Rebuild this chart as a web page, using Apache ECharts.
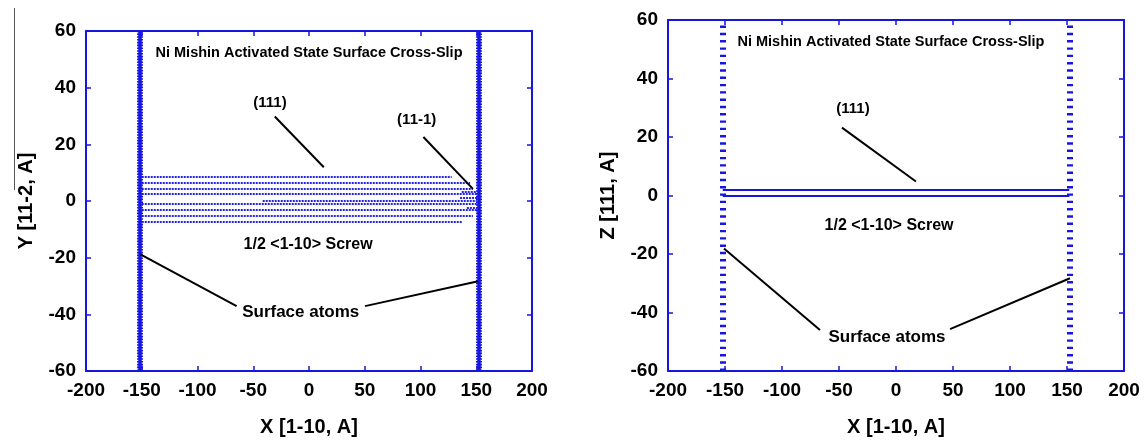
<!DOCTYPE html>
<html><head><meta charset="utf-8">
<script src="https://cdn.jsdelivr.net/npm/echarts@6/dist/echarts.min.js"></script>
<style>html,body{margin:0;padding:0;background:#fff}#c{width:1148px;height:442px}</style>
</head><body><div id="c"></div>
<script>
// ---------- data ----------
const xTickRange = [-200, 200];           // X [1-10, A]
const yTickRange = [-60, 60];             // Y / Z
const xInterval = 50, yInterval = 20;

// surface atom columns (both panels)
const surfaceX = [-152, 152];

// left panel: dislocation rows on (111) (y, xStart, xEnd)
const leftRowY     = [8.7, 6.5, 4.4, 2.4, 0.2, -1.0, -3.2, -5.3, -7.3];
const leftRowStart = [-150, -150, -150, -150, -41.5, -150, -150, -150, -150];
const leftRowEnd   = [128, 144.5, 147, 150.5, 150.5, 150.5, 150.5, 147, 137];
// left panel: cross-slipped part on (11-1)
const crossRowY     = [3.4, 1.1, -2.4];
const crossRowStart = [137, 135.5, 141.6];
const crossRowEnd   = [151, 151, 151];

// right panel: (111) planes
const rightPlaneY     = [1.9, 0.0];
const rightPlaneStart = [-152, -152];
const rightPlaneEnd   = [152, 152];

// annotation texts [text, x, y, fontSize]
const leftTexts = [
  ['Ni Mishin Activated State Surface Cross-Slip', 0, 52.2, 14.5],
  ['(111)', -35, 34.6, 15],
  ['(11-1)', 96.6, 28.7, 15],
  ['1/2 <1-10> Screw', -0.8, -15.3, 16],
  ['Surface atoms', -7.4, -39.2, 17]
];
const rightTexts = [
  ['Ni Mishin Activated State Surface Cross-Slip', -4.4, 52.5, 14.5],
  ['(111)', -37.7, 29.7, 15],
  ['1/2 <1-10> Screw', -6.1, -10.2, 16],
  ['Surface atoms', -7.9, -48.4, 17]
];
// annotation pointer lines [x1,y1,x2,y2]
const leftPointers = [
  [-30.7, 29.8, 13.3, 11.9],
  [102.6, 22.6, 147, 4.3],
  [-151.2, -18.8, -64.9, -37.1],
  [50.2, -37.1, 151.7, -28.3]
];
const rightPointers = [
  [-47.4, 23.2, 17.5, 4.8],
  [-150.9, -18.1, -66.7, -46],
  [47.4, -45.7, 152.6, -28.3]
];

// ---------- chart ----------
const BLUE = '#1616e0';
const FONT = "'Liberation Sans', Arial, sans-serif";
const chart = echarts.init(document.getElementById('c'), null, {renderer: 'canvas'});

function xAxes(gi, title) {
  const common = {gridIndex: gi, type: 'value', min: xTickRange[0], max: xTickRange[1], interval: xInterval,
    splitLine: {show: false},
    axisLine: {onZero: false, lineStyle: {color: BLUE, width: 2}},
    axisTick: {inside: true, length: 5, lineStyle: {color: BLUE, width: 1.5}}};
  return [
    Object.assign({}, common, {position: 'bottom', name: title, nameLocation: 'middle', nameGap: 46,
      nameTextStyle: {color: '#000', fontFamily: FONT, fontWeight: 'bold', fontSize: 20},
      axisLabel: {color: '#000', fontFamily: FONT, fontWeight: 'bold', fontSize: 19, margin: 10}}),
    Object.assign({}, common, {position: 'top', axisLabel: {show: false}})
  ];
}
function yAxes(gi, title) {
  const common = {gridIndex: gi, type: 'value', min: yTickRange[0], max: yTickRange[1], interval: yInterval,
    splitLine: {show: false},
    axisLine: {onZero: false, lineStyle: {color: BLUE, width: 2}},
    axisTick: {inside: true, length: 5, lineStyle: {color: BLUE, width: 1.5}}};
  return [
    Object.assign({}, common, {position: 'left', name: title, nameLocation: 'middle', nameGap: 50,
      nameTextStyle: {color: '#000', fontFamily: FONT, fontWeight: 'bold', fontSize: 20},
      axisLabel: {color: '#000', fontFamily: FONT, fontWeight: 'bold', fontSize: 19, margin: 10}}),
    Object.assign({}, common, {position: 'right', axisLabel: {show: false}})
  ];
}

function segs(ys, xs0, xs1) {
  return ys.map((y, i) => ({coords: [[xs0[i], y], [xs1[i], y]]}));
}
function pointerSegs(p) { return p.map(s => ({coords: [[s[0], s[1]], [s[2], s[3]]]})); }
function vertSegs(xs) { return xs.map(x => ({coords: [[x, yTickRange[0]], [x, yTickRange[1]]]})); }
function textSeries(texts, xi, yi) {
  return {
    type: 'scatter', xAxisIndex: xi, yAxisIndex: yi, symbolSize: 1, silent: true,
    itemStyle: {color: 'rgba(255,255,255,0)', opacity: 1},
    data: texts.map(t => ({value: [t[1], t[2]], name: t[0],
      label: {show: true, position: 'inside', formatter: t[0], color: '#000', fontFamily: FONT,
        fontWeight: 'bold', fontSize: t[3], textBorderWidth: 0, opacity: 1}})),
    z: 10
  };
}

const option = {
  animation: false,
  backgroundColor: '#fff',
  grid: [
    {left: 86, right: 616, top: 31, bottom: 70},
    {left: 668, right: 24, top: 20, bottom: 70}
  ],
  xAxis: [...xAxes(0, 'X [1-10, A]'), ...xAxes(1, 'X [1-10, A]')],
  yAxis: [...yAxes(0, 'Y [11-2, A]'), ...yAxes(1, 'Z [111, A]')],
  series: [
    // left surface atoms
    {type: 'lines', coordinateSystem: 'cartesian2d', xAxisIndex: 0, yAxisIndex: 0,
      data: vertSegs(surfaceX), lineStyle: {color: BLUE, width: 6, type: [1.6, 1.2], opacity: 1}, z: 3},
    {type: 'lines', coordinateSystem: 'cartesian2d', xAxisIndex: 0, yAxisIndex: 0,
      data: vertSegs(surfaceX), lineStyle: {color: BLUE, width: 3.5, opacity: 1}, z: 3},
    // left dislocation rows
    {type: 'lines', coordinateSystem: 'cartesian2d', xAxisIndex: 0, yAxisIndex: 0,
      data: segs(leftRowY, leftRowStart, leftRowEnd), lineStyle: {color: '#2424e6', width: 2.2, type: [2, 1], opacity: 1}, z: 2},
    {type: 'lines', coordinateSystem: 'cartesian2d', xAxisIndex: 0, yAxisIndex: 0,
      data: segs(crossRowY, crossRowStart, crossRowEnd), lineStyle: {color: '#2424e6', width: 2.2, type: [2, 1], opacity: 1}, z: 2},
    // left pointers
    {type: 'lines', coordinateSystem: 'cartesian2d', xAxisIndex: 0, yAxisIndex: 0,
      data: pointerSegs(leftPointers), lineStyle: {color: '#000', width: 2, opacity: 1}, z: 5},
    textSeries(leftTexts, 0, 0),
    // right surface atoms
    {type: 'lines', coordinateSystem: 'cartesian2d', xAxisIndex: 2, yAxisIndex: 2,
      data: vertSegs(surfaceX), lineStyle: {color: BLUE, width: 6, type: [2.4, 4.9], opacity: 1}, z: 3},
    // right planes
    {type: 'lines', coordinateSystem: 'cartesian2d', xAxisIndex: 2, yAxisIndex: 2,
      data: segs(rightPlaneY, rightPlaneStart, rightPlaneEnd), lineStyle: {color: BLUE, width: 2, opacity: 1}, z: 2},
    // right pointers
    {type: 'lines', coordinateSystem: 'cartesian2d', xAxisIndex: 2, yAxisIndex: 2,
      data: pointerSegs(rightPointers), lineStyle: {color: '#000', width: 2, opacity: 1}, z: 5},
    textSeries(rightTexts, 2, 2)
  ],
  graphic: [
    {type: 'line', shape: {x1: 14.5, y1: 8, x2: 14.5, y2: 190}, style: {stroke: '#555', lineWidth: 1}}
  ]
};
chart.setOption(option);
</script>
</body></html>
